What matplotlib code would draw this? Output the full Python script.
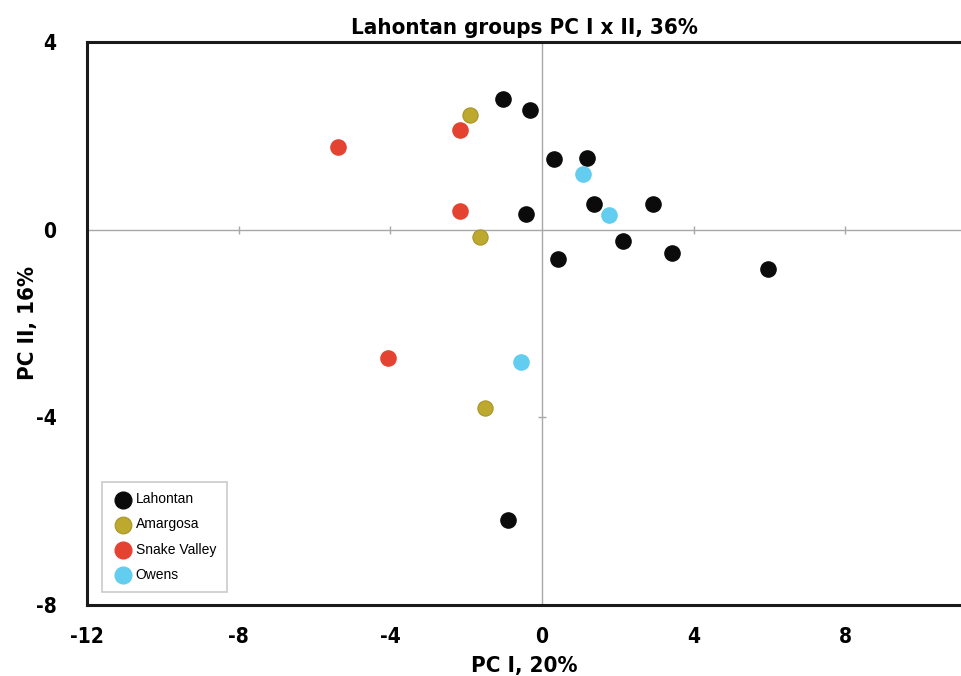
import matplotlib
matplotlib.use("Agg")
import matplotlib.pyplot as plt

plt.rcParams["axes.unicode_minus"] = False

# Data (PC I, PC II scores)
lahontan_x = [-1.03, -0.32, 0.32, 1.19, 1.37, 2.93, -0.42, 2.14, 0.42, 3.43, 5.96, -0.90]
lahontan_y = [2.78, 2.55, 1.50, 1.53, 0.55, 0.55, 0.33, -0.24, -0.62, -0.50, -0.84, -6.19]
amargosa_x = [-1.90, -1.63, -1.50]
amargosa_y = [2.44, -0.15, -3.80]
snake_x = [-2.16, -2.16, -5.38, -4.06]
snake_y = [2.13, 0.40, 1.76, -2.74]
owens_x = [1.07, 1.78, -0.55]
owens_y = [1.19, 0.32, -2.82]

xticks = [-12, -8, -4, 0, 4, 8]
yticks = [-8, -4, 0, 4]

bold_font = ["DejaVu Sans"]
plain_font = ["Liberation Sans", "DejaVu Sans"]

fig = plt.figure(figsize=(9.61, 6.76), dpi=100)
ax = fig.add_axes([0.0905, 0.105, 0.9095, 0.833])

# zero lines with small cross ticks
ax.axhline(0, color="#a8a8a8", lw=1.0, zorder=1)
ax.axvline(0, color="#a8a8a8", lw=1.0, zorder=1)
tx = [t for t in xticks if t not in (0, -12)]
ty = [t for t in yticks if t not in (0, -8, 4)]
ax.plot(tx, [0] * len(tx), ls="none", marker="|", ms=6, color="#a8a8a8", mew=1.0, zorder=1)
ax.plot([0] * len(ty), ty, ls="none", marker="_", ms=6, color="#a8a8a8", mew=1.0, zorder=1)

ms = 120
ax.scatter(lahontan_x, lahontan_y, s=ms, color="#0b0b0b", label="Lahontan", zorder=3)
ax.scatter(amargosa_x, amargosa_y, s=ms, color="#bea92f", edgecolors="#a8942a", linewidths=0.8,
           label="Amargosa", zorder=3)
ax.scatter(snake_x, snake_y, s=ms, color="#e44332", label="Snake Valley", zorder=3)
ax.scatter(owens_x, owens_y, s=ms, color="#62cdee", label="Owens", zorder=3)

ax.set_xlim(-12, 11.05)
ax.set_ylim(-8, 4)
ax.set_xticks(xticks)
ax.set_yticks(yticks)
ax.tick_params(length=0, pad=16)
ax.tick_params(axis="y", pad=22)
for lab in ax.get_xticklabels() + ax.get_yticklabels():
    lab.set_family(bold_font)
    lab.set_fontweight("bold")
    lab.set_fontstretch("condensed")
    lab.set_fontsize(15)

for side in ["left", "bottom", "top"]:
    ax.spines[side].set_linewidth(2.2)
    ax.spines[side].set_color("#1a1a1a")
ax.spines["right"].set_visible(False)

ax.set_title("Lahontan groups PC I x II, 36%", family=bold_font, fontweight="bold",
             fontstretch="condensed", fontsize=16, pad=6)
ax.set_xlabel("PC I, 20%", family=bold_font, fontweight="bold", fontstretch="condensed",
              fontsize=16, labelpad=6)
ax.set_ylabel("PC II, 16%", family=bold_font, fontweight="bold", fontstretch="condensed",
              fontsize=16, labelpad=-2)

leg = ax.legend(loc="lower left", bbox_to_anchor=(0.017, 0.023), borderaxespad=0,
                frameon=True, fancybox=False,
                edgecolor="#bdbdbd", prop={"family": plain_font, "size": 10},
                handletextpad=0.2, labelspacing=0.8, borderpad=0.75, handlelength=1.5,
                scatterpoints=1, markerscale=1.1)
leg.get_frame().set_linewidth(1.2)

fig.savefig("out.png", dpi=100)
